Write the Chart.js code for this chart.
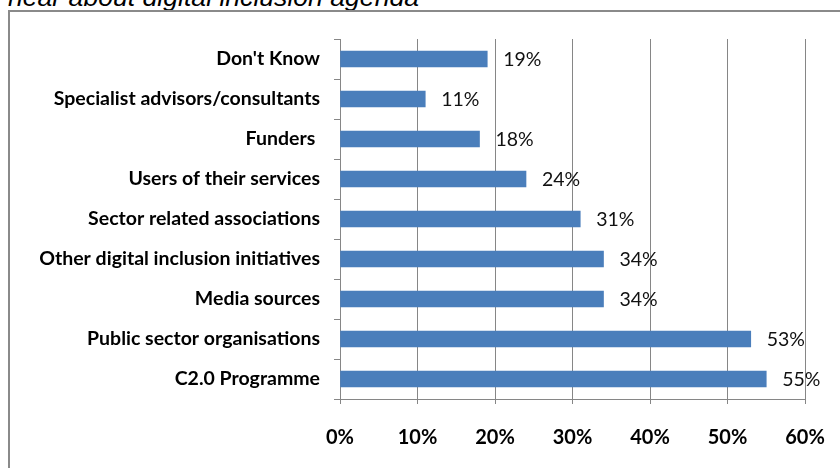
<!DOCTYPE html>
<html>
<head>
<meta charset="utf-8">
<script src="https://cdn.jsdelivr.net/npm/chart.js@4/dist/chart.umd.min.js"></script>
<style>
  html, body { margin: 0; padding: 0; background: #fff; overflow: hidden; }
  #wrap { position: relative; width: 840px; height: 468px; overflow: hidden; }
  #heading {
    position: absolute; left: 8px; top: -18px; margin: 0;
    font: italic 26.6px "Liberation Sans", Arial, sans-serif; color: #000;
    white-space: nowrap; line-height: 30px;
  }
  #frame {
    position: absolute; left: 8px; top: 10px; width: 900px; height: 520px;
    border: 2px solid #8a8a8a; box-sizing: border-box;
  }
  #c { position: absolute; left: 0; top: 0; }
</style>
</head>
<body>
<div id="wrap">
  <div id="heading">hear about digital inclusion agenda</div>
  <div id="frame"></div>
  <canvas id="c" width="840" height="468"></canvas>
</div>
<script>
// Where respondents hear about the digital inclusion agenda (% of respondents)
const categories = [
  "Don't Know",
  "Specialist advisors/consultants",
  "Funders ",
  "Users of their services",
  "Sector related associations",
  "Other digital inclusion initiatives",
  "Media sources",
  "Public sector organisations",
  "C2.0 Programme"
];
const shares = [19, 11, 18, 24, 31, 34, 34, 53, 55];
const axisTicks = [0, 10, 20, 30, 40, 50, 60];

const axisGrey = '#868686';
const barBlue = '#4a7ebb';

// Value labels placed just past the end of each bar
const valueLabels = {
  id: 'valueLabels',
  afterDatasetsDraw(chart) {
    const ctx = chart.ctx;
    const meta = chart.getDatasetMeta(0);
    ctx.save();
    ctx.font = '19.5px Lato, "Liberation Sans", sans-serif';
    ctx.fillStyle = '#111';
    ctx.textAlign = 'left';
    ctx.textBaseline = 'middle';
    meta.data.forEach((bar, i) => {
      ctx.fillText(shares[i] + '%', bar.x + 16, bar.y + 1);
    });
    ctx.restore();
  }
};

new Chart(document.getElementById('c'), {
  type: 'bar',
  data: {
    labels: categories,
    datasets: [{
      data: shares,
      backgroundColor: barBlue,
      borderWidth: 0,
      barThickness: 16
    }]
  },
  options: {
    indexAxis: 'y',
    responsive: false,
    animation: false,
    events: [],
    layout: { padding: { top: 39, right: 35, left: 0, bottom: 0 } },
    plugins: { legend: { display: false }, tooltip: { enabled: false } },
    scales: {
      x: {
        min: 0,
        max: 60,
        afterFit(scale) {
          scale.height = 69;
          scale.paddingLeft = 0;
          scale.paddingRight = 0;
        },
        afterBuildTicks(scale) { scale.ticks = axisTicks.map(v => ({ value: v })); },
        grid: { color: axisGrey, lineWidth: 1, tickLength: 5, drawTicks: true },
        border: { color: axisGrey, width: 1 },
        ticks: {
          padding: 22,
          color: '#000',
          font: { family: 'Lato, "Liberation Sans", sans-serif', size: 20, weight: 'bold' },
          callback: v => v + '%'
        }
      },
      y: {
        afterFit(scale) { scale.width = 340; },
        grid: { drawOnChartArea: false, color: axisGrey, tickLength: 6, offset: true },
        border: { color: axisGrey, width: 1 },
        ticks: {
          padding: 14,
          color: '#000',
          font: { family: 'Lato, "Liberation Sans", sans-serif', size: 19.5, weight: 'bold' }
        }
      }
    }
  },
  plugins: [valueLabels]
});
</script>
</body>
</html>
